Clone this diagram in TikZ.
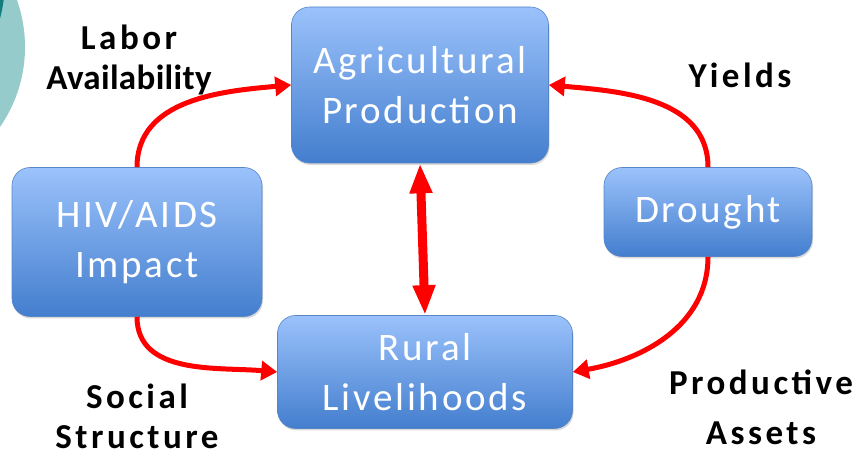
\documentclass[tikz,border=0pt]{standalone}
\usepackage{fontspec}
\setmainfont{Carlito}
\usetikzlibrary{arrows.meta,shadows}
\definecolor{boxtop}{HTML}{9BC2FB}
\definecolor{boxbottom}{HTML}{437ECE}
\definecolor{boxline}{HTML}{5686C8}
\definecolor{teallight}{HTML}{95CBCB}
\definecolor{tealdark}{HTML}{137D7D}
\definecolor{arrowred}{HTML}{FF0000}

\tikzset{
    factor/.style={rounded corners=18pt, draw=boxline, line width=0.6pt,
        top color=boxtop, bottom color=boxbottom, text=white, align=center,
        font=\fontsize{39}{50}\selectfont\addfontfeatures{LetterSpace=7},
        drop shadow={shadow xshift=1pt, shadow yshift=-2pt, opacity=0.25, fill=black!60}},
    link/.style={draw=arrowred, line width=5pt, -{Triangle[length=16pt,width=19pt]}},
    tag/.style={align=center, inner sep=1pt, font=\bfseries\fontsize{35}{40}\selectfont\addfontfeatures{LetterSpace=10}}
}

\begin{document}
\begin{tikzpicture}[x=1pt,y=1pt]
    \useasboundingbox (0,0) rectangle (860,457);
    \begin{scope}
        \clip (0,0) rectangle (860,457);
        \fill[teallight] (-115,410) circle (140);
        \fill[tealdark] (-145,477) circle (150);
    \end{scope}

    % boxes
    \node[factor, minimum width=257pt, minimum height=156pt] (agri) at (420,372) {Agricultural\\Production};
    \node[factor, minimum width=208pt, minimum height=89pt] (drought) at (708,245) {Drought};
    \node[factor, minimum width=250pt, minimum height=149pt] (hiv) at (137,215) {HIV/AIDS\\Impact};
    \node[factor, minimum width=295pt, minimum height=113pt] (rural) at (425,85) {Rural\\Livelihoods};

    % links
    \draw[link] (hiv.north) to[out=90,in=185] (agri.west);
    \draw[link] (drought.north) to[out=90,in=-5] (agri.east);
    \draw[link] (hiv.south) to[out=-90,in=175] (rural.west);
    \draw[link] (drought.south) to[out=-90,in=10] (rural.east);
    \draw[draw=arrowred, line width=9pt, {Triangle[length=30pt,width=21pt]}-{Triangle[length=30pt,width=21pt]}] (agri.south) -- (rural.north);

    % labels
    \node[tag] (labor) at (129,397) {Labor\\{\addfontfeatures{LetterSpace=1}Availability}};
    \node[tag] (yields) at (740,382) {Yields};
    \node[tag] (social) at (137,41) {Social\\Structure};
    \node[tag] (assets) at (761,50) {Productive\\[10pt]Assets};
\end{tikzpicture}
\end{document}
